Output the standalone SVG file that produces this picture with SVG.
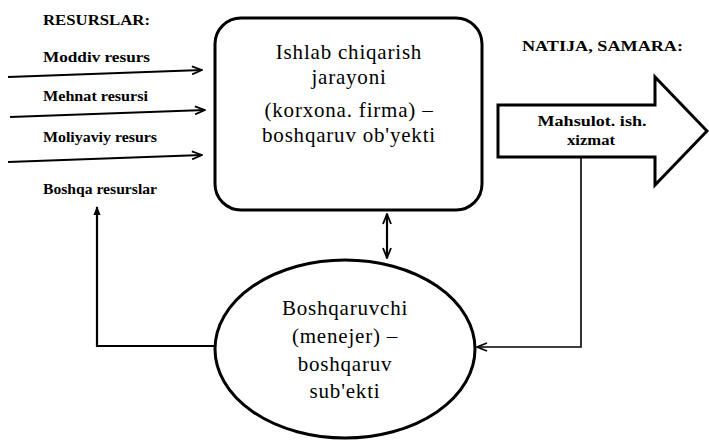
<svg xmlns="http://www.w3.org/2000/svg" width="709" height="441" viewBox="0 0 709 441">
<style>
.lbl{font-family:"Liberation Serif","Times New Roman",serif;font-weight:bold;font-size:14px;fill:#000}
.txt{font-family:"Liberation Serif","Times New Roman",serif;font-size:21px;letter-spacing:0.8px;fill:#000;text-anchor:middle}
.shape{fill:#fff;stroke:#000;stroke-width:3}
.con{fill:none;stroke:#000;stroke-width:2.2}
</style>
<defs>
<marker id="open" viewBox="0 0 12 10" refX="11" refY="5" markerWidth="12" markerHeight="10" markerUnits="userSpaceOnUse" orient="auto-start-reverse">
<path d="M1,1 L11,5 L1,9" fill="none" stroke="#000" stroke-width="1.8"/>
</marker>
<marker id="solid" viewBox="0 0 10 10" refX="9" refY="5" markerWidth="9" markerHeight="10" markerUnits="userSpaceOnUse" orient="auto">
<path d="M0,1 L10,5 L0,9 Z" fill="#000"/>
</marker>
</defs>
<g id="labels-left">
<text class="lbl" x="43" y="25" textLength="107" lengthAdjust="spacingAndGlyphs">RESURSLAR:</text>
<text class="lbl" x="43" y="62" textLength="107" lengthAdjust="spacingAndGlyphs">Moddiv resurs</text>
<text class="lbl" x="43" y="101" textLength="105" lengthAdjust="spacingAndGlyphs">Mehnat resursi</text>
<text class="lbl" x="43" y="142" textLength="114" lengthAdjust="spacingAndGlyphs">Moliyaviy resurs</text>
<text class="lbl" x="43" y="194" textLength="114" lengthAdjust="spacingAndGlyphs">Boshqa resurslar</text>
</g>
<g id="label-result">
<text class="lbl" x="522" y="51" textLength="161" lengthAdjust="spacingAndGlyphs">NATIJA, SAMARA:</text>
</g>
<g id="process">
<rect class="shape" x="215" y="18" width="267" height="192" rx="26" ry="26"/>
<text class="txt" x="349" y="59">Ishlab chiqarish</text>
<text class="txt" x="349" y="84">jarayoni</text>
<text class="txt" x="349" y="117">(korxona. firma) –</text>
<text class="txt" x="349" y="142">boshqaruv ob'yekti</text>
</g>
<g id="result">
<polygon class="shape" points="498,105 655,105 655,77 707,131 655,185 655,157 498,157"/>
<text class="lbl" x="592" y="126" text-anchor="middle" textLength="109" lengthAdjust="spacingAndGlyphs">Mahsulot. ish.</text>
<text class="lbl" x="591" y="145" text-anchor="middle" textLength="48" lengthAdjust="spacingAndGlyphs">xizmat</text>
</g>
<g id="manager">
<ellipse class="shape" cx="345" cy="349" rx="130" ry="89"/>
<text class="txt" x="345" y="315">Boshqaruvchi</text>
<text class="txt" x="345" y="343">(menejer) –</text>
<text class="txt" x="345" y="371">boshqaruv</text>
<text class="txt" x="345" y="398">sub'ekti</text>
</g>
<g id="connectors">
<line class="con" x1="8" y1="77" x2="202" y2="70" marker-end="url(#open)"/>
<line class="con" x1="10" y1="117" x2="205" y2="110" marker-end="url(#open)"/>
<line class="con" x1="8" y1="162" x2="202" y2="155" marker-end="url(#open)"/>
<polyline class="con" points="215,346 97,346 97,207" marker-end="url(#solid)"/>
<line class="con" x1="387" y1="214" x2="387" y2="258" marker-start="url(#open)" marker-end="url(#open)"/>
<polyline class="con" style="stroke-width:1.6" points="581,158 581,347 477,347" marker-end="url(#open)"/>
</g>
</svg>
